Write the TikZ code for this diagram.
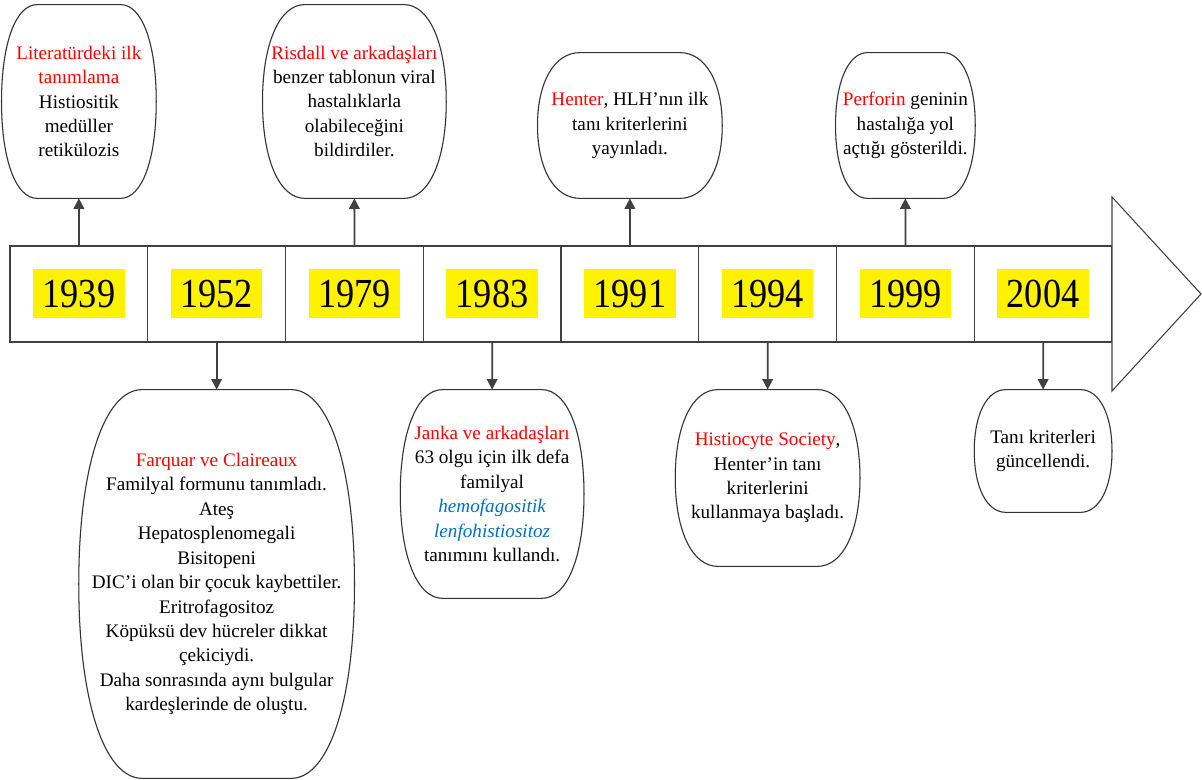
\documentclass[tikz,border=0pt]{standalone}
\usepackage{fontspec}
\setmainfont{Liberation Serif}
\newfontfamily\yearfont[FakeStretch=0.88]{Liberation Serif}
\usetikzlibrary{calc,arrows.meta,backgrounds}
\definecolor{linegray}{RGB}{64,64,64}
\definecolor{termblue}{RGB}{0,112,192}
\newcommand{\boxfont}{\fontsize{10.9}{13.9}\selectfont}
\newcommand{\redtxt}[1]{\textcolor{red}{#1}}
\newcommand{\bluetxt}[1]{\textcolor{termblue}{\itshape #1}}
\def\bubblepath[#1]#2{\draw[#1] let \p1=(#2.north west), \p2=(#2.south east) in
  ({\x1+0.23*(\x2-\x1)},\y1) -- ({\x2-0.23*(\x2-\x1)},\y1)
  .. controls ({\x2-0.092*(\x2-\x1)},\y1) and (\x2,{\y1-0.2*(\y1-\y2)}) .. (\x2,{0.5*(\y1+\y2)})
  .. controls (\x2,{\y2+0.2*(\y1-\y2)}) and ({\x2-0.092*(\x2-\x1)},\y2) .. ({\x2-0.23*(\x2-\x1)},\y2)
  -- ({\x1+0.23*(\x2-\x1)},\y2)
  .. controls ({\x1+0.092*(\x2-\x1)},\y2) and (\x1,{\y2+0.2*(\y1-\y2)}) .. (\x1,{0.5*(\y1+\y2)})
  .. controls (\x1,{\y1-0.2*(\y1-\y2)}) and ({\x1+0.092*(\x2-\x1)},\y1) .. cycle;}
\def\bubble#1{\bubblepath[draw=black!20,line width=0.8pt,xshift=1.2pt,yshift=-1.2pt]{#1}\bubblepath[draw=black!80,fill=white,line width=0.6pt]{#1}}

\begin{document}
\begin{tikzpicture}[
	cell/.style={draw=linegray, line width=0.6pt, fill=white, minimum width=2.755cm, minimum height=1.92cm, inner sep=0pt},
	year/.style={fill=yellow, minimum width=1.83cm, minimum height=0.98cm, inner sep=0pt, font=\yearfont\fontsize{23.5}{24}\selectfont},
	note/.style={align=center, inner sep=0pt, font=\boxfont},
	link/.style={draw=linegray, line width=1pt, -{Triangle[length=6pt,width=6pt]}}]
			\useasboundingbox (0,0) rectangle (24.04,15.6);
			%%%%% START %%%%%
			\foreach \yr [count=\i from 0] in {1939,1952,1979,1983,1991,1994,1999,2004} {
				\node[cell] (c\yr) at ({0.2+2.755*(\i+0.5)}, 9.72) {};
				\node[year] (y\yr) at (c\yr) {\yr};
			}
			\draw[draw=linegray, line width=0.6pt, fill=white] (22.24, 11.66) -- (24.02, 9.72) -- (22.24, 7.78) -- cycle;
			
			% above the bar
			\node[note, minimum width=3.08cm, minimum height=3.86cm] (lit) at (1.5775, 13.57) {\redtxt{Literatürdeki ilk}\\\redtxt{tanımlama}\\Histiositik\\medüller\\retikülozis};
			\node[note, minimum width=3.66cm, minimum height=3.86cm] (ris) at (7.0875, 13.57) {\redtxt{Risdall ve arkadaşları}\\benzer tablonun viral\\hastalıklarla\\olabileceğini\\bildirdiler.};
			\node[note, minimum width=3.68cm, minimum height=2.9cm] (hen) at (12.5975, 13.09) {\redtxt{Henter}, HLH’nın ilk\\tanı kriterlerini\\yayınladı.};
			\node[note, minimum width=2.78cm, minimum height=2.9cm] (per) at (18.1075, 13.09) {\redtxt{Perforin} geninin\\hastalığa yol\\açtığı gösterildi.};
			
			% below the bar
			\node[note, minimum width=5.5cm, minimum height=7.76cm] (far) at (4.3325, 3.92) {\redtxt{Farquar ve Claireaux}\\Familyal formunu tanımladı.\\Ateş\\Hepatosplenomegali\\Bisitopeni\\DIC’i olan bir çocuk kaybettiler.\\Eritrofagositoz\\Köpüksü dev hücreler dikkat\\çekiciydi.\\Daha sonrasında aynı bulgular\\kardeşlerinde de oluştu.};
			\node[note, minimum width=3.66cm, minimum height=4.16cm] (jan) at (9.8425, 5.72) {\redtxt{Janka ve arkadaşları}\\63 olgu için ilk defa\\familyal\\\bluetxt{hemofagositik}\\\bluetxt{lenfohistiositoz}\\tanımını kullandı.};
			\node[note, minimum width=3.68cm, minimum height=3.52cm] (his) at (15.3525, 6.04) {\redtxt{Histiocyte Society},\\Henter’in tanı\\kriterlerini\\kullanmaya başladı.};
			\node[note, minimum width=2.74cm, minimum height=2.44cm] (tan) at (20.8625, 6.58) {Tanı kriterleri\\güncellendi.};
			
			\begin{scope}[on background layer]
				\bubble{lit} \bubble{ris} \bubble{hen} \bubble{per}
				\bubble{far} \bubble{jan} \bubble{his} \bubble{tan}
			\end{scope}
			
			\draw[link] (c1939.north) -- (lit.south);
			\draw[link] (c1979.north) -- (ris.south);
			\draw[link] (c1991.north) -- (hen.south);
			\draw[link] (c1999.north) -- (per.south);
			\draw[link] (c1952.south) -- (far.north);
			\draw[link] (c1983.south) -- (jan.north);
			\draw[link] (c1994.south) -- (his.north);
			\draw[link] (c2004.south) -- (tan.north);
			%%%%% END %%%%%
\end{tikzpicture}
\end{document}
